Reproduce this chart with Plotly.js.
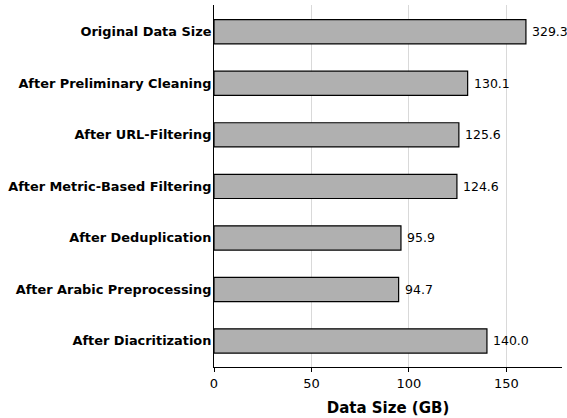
<!DOCTYPE html>
<html>
<head>
<meta charset="utf-8">
<script src="https://cdn.plot.ly/plotly-3.0.1.min.js"></script>
<style>html,body{margin:0;padding:0;background:#fff}#chart{width:567px;height:418px}</style>
</head>
<body>
<div id="chart"></div>
<script>
const stages = ["Original Data Size","After Preliminary Cleaning","After URL-Filtering","After Metric-Based Filtering","After Deduplication","After Arabic Preprocessing","After Diacritization"];
const sizesGB = [329.3, 130.1, 125.6, 124.6, 95.9, 94.7, 140.0];
const barCap = 160; // the reference draws the first bar cut at 160
const barLengths = sizesGB.map(v => Math.min(v, barCap));
const valueLabels = sizesGB.map(v => v.toFixed(1));
const xTicks = [0, 50, 100, 150];

const trace = {
  type: 'bar', orientation: 'h',
  x: barLengths, y: stages,
  width: 0.47,
  marker: {color: '#b0b0b0', line: {color: '#000', width: 1.2}},
  hoverinfo: 'skip'
};
const annotations = stages.map((s, i) => ({
  x: barLengths[i], y: s, xref: 'x', yref: 'y',
  text: valueLabels[i], showarrow: false, xanchor: 'left', yanchor: 'middle',
  xshift: 4, font: {family: 'DejaVu Sans', size: 12.5, color: '#000'}
}));
const layout = {
  width: 567, height: 418,
  margin: {l: 214, r: 5, t: 5, b: 51},
  paper_bgcolor: '#fff', plot_bgcolor: '#fff',
  showlegend: false,
  font: {family: 'DejaVu Sans', color: '#000'},
  xaxis: {
    range: [0, 178.5], tickvals: xTicks, ticktext: xTicks.map(String),
    showgrid: true, gridcolor: '#d9d9d9', gridwidth: 1,
    zeroline: false, showline: true, linecolor: '#000', linewidth: 1,
    ticks: 'outside', ticklen: 4, tickcolor: '#000',
    tickfont: {family: 'DejaVu Sans', size: 13, color: '#000'},
    title: {text: '<b>Data Size (GB)</b>', font: {family: 'DejaVu Sans', size: 15, color: '#000'}, standoff: 12}
  },
  yaxis: {
    type: 'category', categoryorder: 'array', categoryarray: stages,
    range: [6.505, -0.52],
    showgrid: false, zeroline: false, showline: true, linecolor: '#000', linewidth: 1,
    ticks: '', ticklabelstandoff: -1,
    tickfont: {family: 'DejaVu Sans', size: 12.9, color: '#000', weight: 'bold'}
  },
  annotations: annotations
};
Plotly.newPlot('chart', [trace], layout, {displayModeBar: false, staticPlot: true});
</script>
</body>
</html>
